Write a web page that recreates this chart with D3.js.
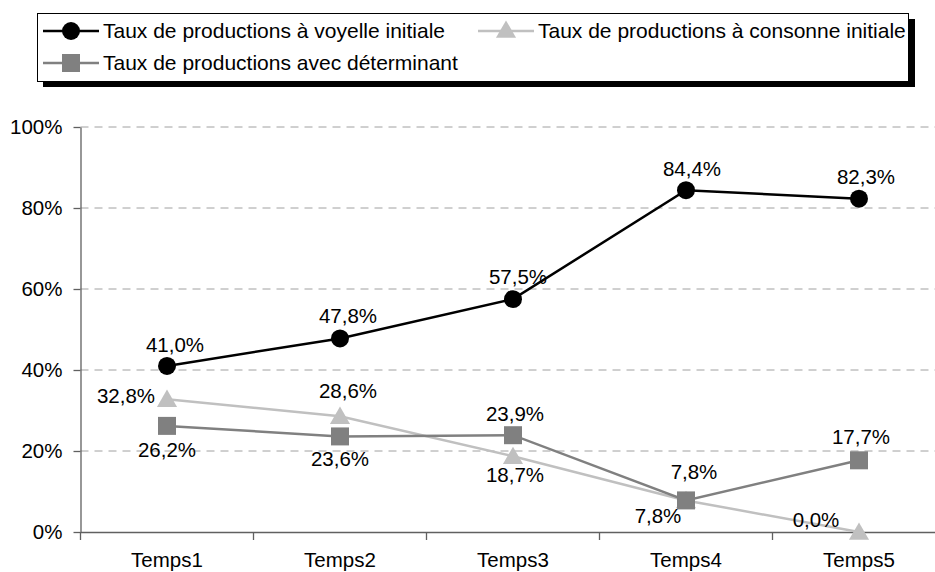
<!DOCTYPE html>
<html lang="fr">
<head>
  <meta charset="UTF-8" />
  <title>Taux de productions</title>
  <script src="https://d3js.org/d3.v7.min.js"></script>
  <style>
    body {
      margin: 0;
      padding: 0;
      background: #fff;
    }
    svg {
      display: block;
      font-family: "Liberation Sans", Arial, sans-serif;
    }
    .grid line {
      stroke: #a0a0a0;
      stroke-width: 1px;
      stroke-dasharray: 8 6;
    }
    .axis path, .axis line {
      stroke: #606060;
      stroke-width: 1.3px;
    }
    .axis text, .label {
      font-size: 20.5px;
      fill: #000;
    }
    .legend text {
      font-size: 21px;
      fill: #000;
    }
  </style>
</head>
<body>
  <svg id="chart" width="935" height="572"></svg>

  <script>
    // Data (percent)
    const categories = ["Temps1", "Temps2", "Temps3", "Temps4", "Temps5"];
    const voyelle = [41.0, 47.8, 57.5, 84.4, 82.3];
    const consonne = [32.8, 28.6, 18.7, 7.8, 0.0];
    const determinant = [26.2, 23.6, 23.9, 7.8, 17.7];
    const yTicks = [0, 20, 40, 60, 80, 100];

    // Label offsets (dx, dy) relative to each point, like the Excel placement
    const voyelleLabelPos = [[8, -14], [8, -15], [5, -15], [6, -14], [7, -15]];
    const consonneLabelPos = [[-41, 4], [8, -18], [2, 26], [-28, 23], [-43, -5]];
    const determinantLabelPos = [[0, 31], [0, 30], [2, -14], [8, -21], [2, -16]];

    const series = [
      { name: "Taux de productions à voyelle initiale", values: voyelle, labels: voyelleLabelPos,
        color: "#000000", symbol: d3.symbolCircle, size: 254 },
      { name: "Taux de productions à consonne initiale", values: consonne, labels: consonneLabelPos,
        color: "#c0c0c0", symbol: d3.symbolTriangle, size: 175 },
      { name: "Taux de productions avec déterminant", values: determinant, labels: determinantLabelPos,
        color: "#808080", symbol: d3.symbolSquare, size: 324 }
    ];

    const svg = d3.select("#chart");
    const frFormat = d3.formatLocale({ decimal: ",", thousands: " ", grouping: [3], currency: ["", " €"] });
    const fmt = v => frFormat.format(".1f")(v) + "%";

    // the plot area runs past the right edge of the picture, as in the original
    const x = d3.scaleBand().domain(categories).range([80.5, 945.5]).paddingInner(0).paddingOuter(0);
    const y = d3.scaleLinear().domain([0, 100]).range([532, 127]);
    const cx = c => x(c) + x.bandwidth() / 2;

    // dashed gridlines
    svg.append("g")
      .attr("class", "grid")
      .selectAll("line")
      .data(yTicks.filter(t => t > 0))
      .enter()
      .append("line")
      .attr("x1", 80.5).attr("x2", 945.5)
      .attr("y1", d => y(d)).attr("y2", d => y(d));

    // y axis
    svg.append("g")
      .attr("class", "axis")
      .attr("transform", "translate(80.5,0)")
      .call(d3.axisLeft(y).tickValues(yTicks).tickFormat(d => d + "%").tickSize(7).tickSizeOuter(0).tickPadding(11));

    // x axis: labels centred, ticks at category boundaries
    const xAxis = svg.append("g")
      .attr("class", "axis")
      .attr("transform", "translate(0,532)")
      .call(d3.axisBottom(x).tickSize(0).tickSizeOuter(0).tickPadding(28));
    xAxis.selectAll(".tick text").attr("dy", "0.35em");
    xAxis.selectAll(".boundary")
      .data(categories)
      .enter()
      .append("line")
      .attr("class", "boundary")
      .attr("x1", d => x(d)).attr("x2", d => x(d))
      .attr("y1", 0).attr("y2", 8);

    // lines, markers, labels
    const line = d3.line().x((d, i) => cx(categories[i])).y(d => y(d));

    series.forEach(s => {
      svg.append("path")
        .datum(s.values)
        .attr("fill", "none")
        .attr("stroke", s.color)
        .attr("stroke-width", 2.5)
        .attr("d", line);
    });

    series.forEach(s => {
      svg.append("g")
        .selectAll("path")
        .data(s.values)
        .enter()
        .append("path")
        .attr("d", d3.symbol().type(s.symbol).size(s.size))
        .attr("fill", s.color)
        .attr("transform", (d, i) => `translate(${cx(categories[i])},${y(d) + (s.symbol === d3.symbolTriangle ? 2 : 0)})`);
    });

    series.forEach(s => {
      svg.append("g")
        .selectAll("text")
        .data(s.values)
        .enter()
        .append("text")
        .attr("class", "label")
        .attr("text-anchor", "middle")
        .attr("x", (d, i) => cx(categories[i]) + s.labels[i][0])
        .attr("y", (d, i) => y(d) + s.labels[i][1])
        .text(d => fmt(d));
    });

    // legend box with black drop shadow
    const legend = svg.append("g").attr("class", "legend");
    legend.append("rect")
      .attr("x", 43).attr("y", 19).attr("width", 872).attr("height", 68)
      .attr("fill", "#000");
    legend.append("rect")
      .attr("x", 37.5).attr("y", 13.5).attr("width", 871).attr("height", 68)
      .attr("fill", "#fff").attr("stroke", "#000").attr("stroke-width", 1);

    const legendPos = [[43, 31], [478, 31], [43, 63]];
    series.forEach((s, i) => {
      const [lx, ly] = legendPos[i];
      const item = legend.append("g").attr("transform", `translate(${lx},${ly})`);
      item.append("line")
        .attr("x1", 0).attr("x2", 56).attr("y1", 0).attr("y2", 0)
        .attr("stroke", s.color).attr("stroke-width", 2.5);
      item.append("path")
        .attr("d", d3.symbol().type(s.symbol).size(s.size))
        .attr("fill", s.color)
        .attr("transform", `translate(28,${s.symbol === d3.symbolTriangle ? 1 : 0})`);
      item.append("text")
        .attr("x", 60).attr("y", 0).attr("dy", "0.35em")
        .text(s.name);
    });
  </script>
</body>
</html>
